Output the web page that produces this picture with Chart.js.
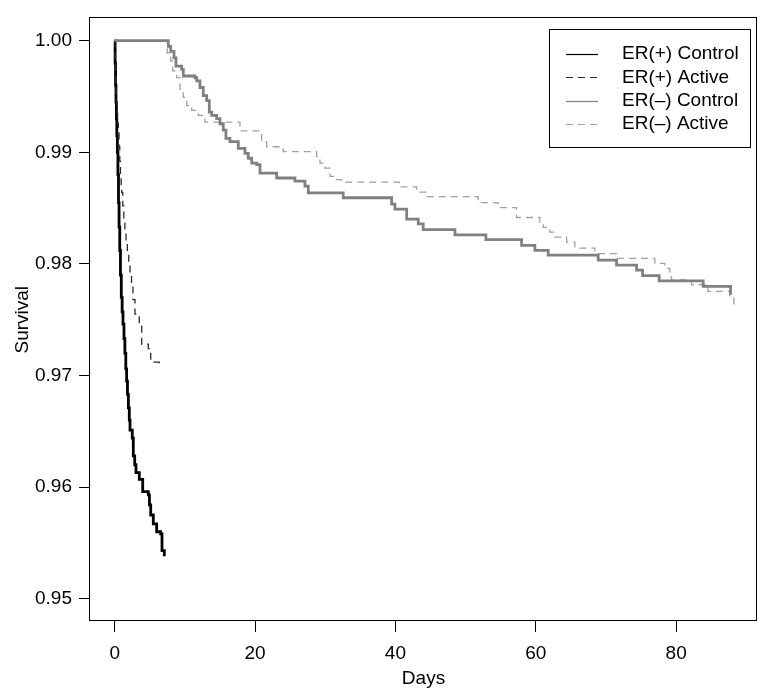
<!DOCTYPE html>
<html lang="en">
<head>
  <meta charset="UTF-8" />
  <title>Survival by ER status</title>
  <script src="https://cdn.jsdelivr.net/npm/chart.js"></script>
  <style>
    body { margin: 0; background: #fff; }
    #wrap { width: 758px; height: 690px; }
  </style>
</head>
<body>
<div id="wrap"><canvas id="survChart"></canvas></div>

<script>
  // axis ticks
  const xTicks = [0, 20, 40, 60, 80];
  const yTicks = [0.95, 0.96, 0.97, 0.98, 0.99, 1.00];

  const seriesNames = ['ER(+) Control', 'ER(+) Active', 'ER(\u2013) Control', 'ER(\u2013) Active'];

  // ER(+) Control (days, survival)
  const posCtrlDays = [0, 0.06, 0.12, 0.18, 0.24, 0.30, 0.38, 0.46, 0.54, 0.62, 0.72, 0.82, 0.94, 1.06, 1.18,
    1.32, 1.45, 1.58, 1.70, 1.82, 1.95, 2.08, 2.18, 2.5, 2.65, 2.85, 3.03, 3.5, 3.99, 4.79, 4.95, 5.13,
    5.5, 5.98, 6.55, 6.74, 7.07];
  const posCtrlSurv = [1.0, 0.998, 0.996, 0.9945, 0.993, 0.9915, 0.990, 0.988, 0.9855, 0.9833, 0.9812, 0.979,
    0.977, 0.9757, 0.9746, 0.9733, 0.9720, 0.9706, 0.9695, 0.9683, 0.9671, 0.9660, 0.9651, 0.9644, 0.9628,
    0.9620, 0.9613, 0.9607, 0.9596, 0.9593, 0.9584, 0.9575, 0.9567, 0.9560, 0.9558, 0.9543, 0.9538];

  // ER(+) Active
  const posActDays = [0, 0.06, 0.12, 0.2, 0.3, 0.42, 0.52, 0.62, 0.72, 0.82, 0.92, 1.0, 1.15, 1.3, 1.45, 1.61,
    1.8, 2.0, 2.18, 2.4, 2.6, 2.89, 3.5, 3.85, 4.79, 5.13, 6.35];
  const posActSurv = [1.0, 0.998, 0.996, 0.9945, 0.9935, 0.9926, 0.9918, 0.9905, 0.9892, 0.9880, 0.9870, 0.9864,
    0.9852, 0.9840, 0.9828, 0.9819, 0.9810, 0.9800, 0.9790, 0.9780, 0.9768, 0.9755, 0.9744, 0.9728, 0.9724,
    0.9712, 0.9708];

  // ER(-) Control
  const negCtrlDays = [0, 7.41, 7.64, 7.98, 8.45, 8.73, 9.54, 9.77, 11.44, 11.68, 12.15, 12.62, 13.11, 13.48,
    13.82, 14.53, 15.0, 15.47, 15.85, 16.42, 17.61, 18.56, 19.03, 19.52, 20.23, 20.70, 23.08, 25.68, 27.11,
    27.58, 32.56, 39.46, 39.93, 41.60, 43.25, 43.96, 48.48, 52.89, 57.98, 59.87, 61.77, 68.89, 71.51, 74.36,
    75.21, 77.58, 83.85, 87.75];
  const negCtrlSurv = [1.0, 1.0, 0.9995, 0.99905, 0.99846, 0.99773, 0.99743, 0.99684, 0.99669, 0.99640, 0.99581,
    0.99508, 0.99463, 0.99360, 0.99331, 0.99301, 0.99256, 0.99198, 0.99124, 0.99095, 0.99035, 0.98991, 0.98947,
    0.98903, 0.98889, 0.98814, 0.98770, 0.98741, 0.98697, 0.98637, 0.98593, 0.98535, 0.98491, 0.98402, 0.98358,
    0.98308, 0.98261, 0.98217, 0.98166, 0.98122, 0.98078, 0.98034, 0.97989, 0.97945, 0.97895, 0.97848, 0.97798,
    0.97724];

  // ER(-) Active
  const negActDays = [0, 7.41, 7.49, 7.98, 8.26, 8.83, 9.30, 9.77, 10.26, 10.97, 11.91, 12.86, 17.85, 20.94, 21.65,
    24.02, 28.77, 29.25, 29.96, 30.67, 31.38, 32.34, 40.54, 43.02, 44.34, 51.79, 54.64, 57.26, 60.58, 61.05,
    62.01, 62.72, 64.39, 65.57, 68.42, 71.51, 76.97, 78.39, 79.10, 79.34, 82.19, 84.52, 87.65, 88.22];
  const negActSurv = [1.0, 1.0, 0.99890, 0.99817, 0.99729, 0.99669, 0.99566, 0.99492, 0.99419, 0.99375, 0.99331,
    0.99271, 0.99192, 0.99095, 0.99050, 0.99006, 0.98962, 0.98903, 0.98859, 0.98785, 0.98756, 0.98732, 0.98691,
    0.98644, 0.98602, 0.98549, 0.98505, 0.98416, 0.98372, 0.98328, 0.98284, 0.98240, 0.98195, 0.98142, 0.98093,
    0.98049, 0.98004, 0.97960, 0.97901, 0.97857, 0.97813, 0.97753, 0.97695, 0.97635];

  const FONT = { family: '"Liberation Sans", Arial, Helvetica, sans-serif', size: 19 };

  function toPoints(days, surv) {
    return days.map((d, i) => ({ x: d, y: surv[i] }));
  }

  const styles = [
    { color: '#000000', width: 2.8, dash: [] },
    { color: '#2a2a2a', width: 1.3, dash: [7, 5] },
    { color: '#808080', width: 2.8, dash: [] },
    { color: '#a0a0a0', width: 1.3, dash: [7, 5] }
  ];

  // box round the plot + R style legend
  const boxAndLegend = {
    id: 'boxAndLegend',
    afterDraw(chart) {
      const ctx = chart.ctx;
      const a = chart.chartArea;
      ctx.save();
      ctx.strokeStyle = '#000';
      ctx.lineWidth = 1;
      ctx.setLineDash([]);
      ctx.strokeRect(Math.round(a.left) - 0.5, Math.round(a.top) - 0.5,
        Math.round(a.right - a.left), Math.round(a.bottom - a.top));

      // legend
      const lx = 549.5, ly = 29.5, lw = 201, lh = 118;
      ctx.fillStyle = '#fff';
      ctx.fillRect(lx, ly, lw, lh);
      ctx.strokeRect(lx, ly, lw, lh);
      ctx.font = FONT.size + 'px ' + FONT.family;
      ctx.textBaseline = 'middle';
      ctx.textAlign = 'left';
      seriesNames.forEach((name, i) => {
        const y = 54 + i * 23.3;
        ctx.beginPath();
        ctx.strokeStyle = styles[i].color;
        ctx.lineWidth = 1.2;
        ctx.setLineDash(styles[i].dash);
        ctx.moveTo(566, Math.round(y) + 0.5);
        ctx.lineTo(598, Math.round(y) + 0.5);
        ctx.stroke();
        ctx.fillStyle = '#000';
        ctx.fillText(name, 622, y);
      });
      ctx.restore();
    }
  };

  const datasets = [
    { label: seriesNames[2], data: toPoints(negCtrlDays, negCtrlSurv), s: styles[2] },
    { label: seriesNames[3], data: toPoints(negActDays, negActSurv), s: styles[3] },
    { label: seriesNames[1], data: toPoints(posActDays, posActSurv), s: styles[1] },
    { label: seriesNames[0], data: toPoints(posCtrlDays, posCtrlSurv), s: styles[0] }
  ].map(d => ({
    label: d.label,
    data: d.data,
    borderColor: d.s.color,
    borderWidth: d.s.width,
    borderDash: d.s.dash,
    stepped: true,
    pointRadius: 0,
    fill: false,
    tension: 0
  }));

  new Chart(document.getElementById('survChart'), {
    type: 'line',
    data: { datasets: datasets },
    options: {
      responsive: true,
      maintainAspectRatio: false,
      animation: false,
      layout: { padding: { top: 10, right: 1, left: 0, bottom: 0 } },
      plugins: { legend: { display: false }, tooltip: { enabled: false } },
      scales: {
        x: {
          type: 'linear',
          min: -3.52,
          max: 91.52,
          afterBuildTicks: s => { s.ticks = xTicks.map(v => ({ value: v })); },
          afterFit: s => { s.height = 69; },
          ticks: { color: '#000', font: FONT, padding: 10, maxRotation: 0, autoSkip: false,
            callback: v => String(v) },
          grid: { drawOnChartArea: false, drawTicks: true, tickLength: 11, color: '#000' },
          border: { display: false },
          title: { display: true, text: 'Days', color: '#000', font: FONT, padding: { top: 0, bottom: 0 } }
        },
        y: {
          type: 'linear',
          min: 0.948,
          max: 1.002,
          afterBuildTicks: s => { s.ticks = yTicks.map(v => ({ value: v })); },
          afterFit: s => { s.width = 90; },
          ticks: { color: '#000', font: FONT, padding: 7, autoSkip: false,
            callback: v => Number(v).toFixed(2) },
          grid: { drawOnChartArea: false, drawTicks: true, tickLength: 11, color: '#000' },
          border: { display: false },
          title: { display: true, text: 'Survival', color: '#000', font: FONT, padding: { top: 11, bottom: 0 } }
        }
      }
    },
    plugins: [boxAndLegend]
  });
</script>
</body>
</html>
